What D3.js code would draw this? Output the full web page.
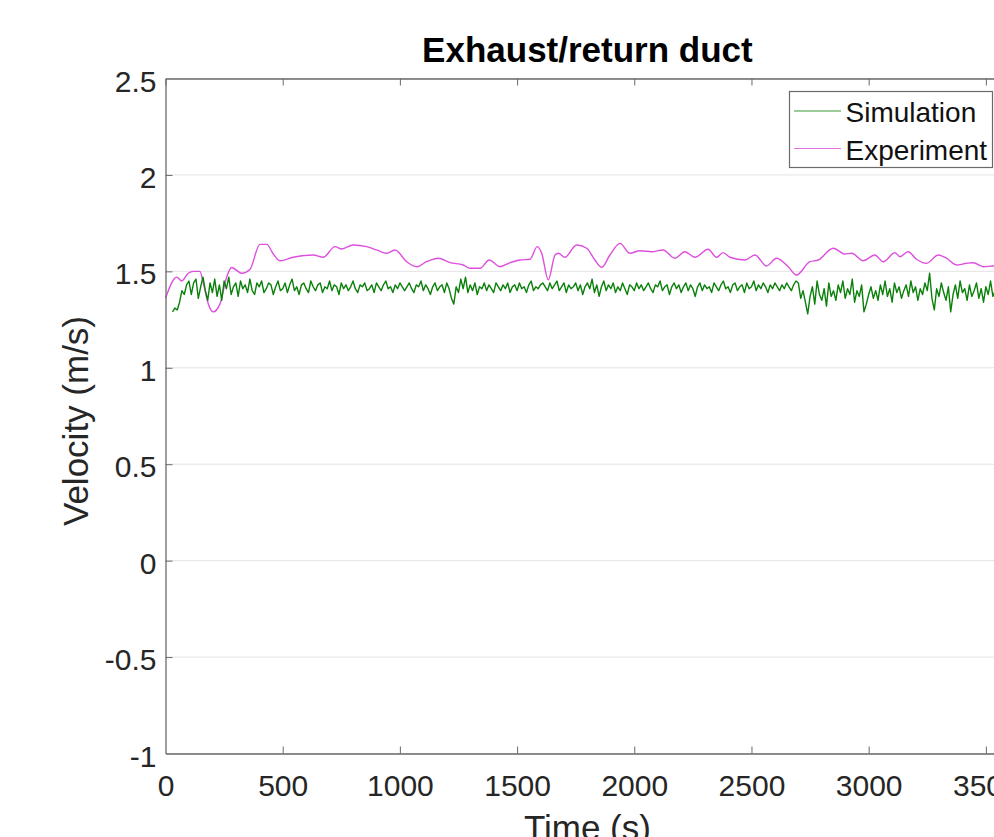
<!DOCTYPE html>
<html>
<head>
<meta charset="utf-8">
<script src="https://cdn.jsdelivr.net/npm/d3@7"></script>
<style>
  body { margin: 0; background: #fff; overflow: hidden; }
  svg { display: block; }
  text { font-family: "Liberation Sans", Arial, Helvetica, sans-serif; fill: #262626; }
</style>
</head>
<body>
<div id="chart"></div>
<script>
// tick labels
var xTicks = [0, 500, 1000, 1500, 2000, 2500, 3000, 3500]
var yTicks = [-1, -0.5, 0, 0.5, 1, 1.5, 2, 2.5]

// Simulation: sampled every 10 s starting at 30 s
var simStart = 30
var simStep = 10
var simValues = [
  1.29, 1.31, 1.30, 1.34, 1.40, 1.38, 1.43, 1.45, 1.38, 1.44, 1.46, 1.36, 1.42, 1.47, 1.40, 1.35, 1.44, 1.39, 1.46, 1.37,
  1.43, 1.35, 1.45, 1.41, 1.47, 1.38, 1.42, 1.44, 1.37, 1.45, 1.41, 1.43, 1.39, 1.46, 1.40, 1.38, 1.44, 1.42, 1.45, 1.39,
  1.41, 1.44, 1.43, 1.38, 1.42, 1.45, 1.40, 1.41, 1.44, 1.39, 1.43, 1.46, 1.40, 1.42, 1.38, 1.43, 1.44, 1.41, 1.39, 1.45,
  1.42, 1.40, 1.43, 1.44, 1.39, 1.42, 1.41, 1.45, 1.40, 1.43, 1.42, 1.38, 1.44, 1.41, 1.43, 1.40, 1.42, 1.45, 1.41, 1.39,
  1.43, 1.42, 1.44, 1.40, 1.41, 1.43, 1.39, 1.44, 1.42, 1.40, 1.43, 1.45, 1.41, 1.42, 1.39, 1.43, 1.41, 1.44, 1.42, 1.40,
  1.42, 1.44, 1.41, 1.39, 1.43, 1.42, 1.45, 1.40, 1.43, 1.41, 1.38, 1.42, 1.44, 1.40, 1.42, 1.43, 1.39, 1.44, 1.41, 1.36,
  1.33, 1.42, 1.39, 1.46, 1.41, 1.47, 1.39, 1.43, 1.40, 1.44, 1.38, 1.42, 1.41, 1.44, 1.40, 1.43, 1.41, 1.39, 1.44, 1.42,
  1.40, 1.43, 1.41, 1.44, 1.39, 1.42, 1.43, 1.40, 1.44, 1.41, 1.42, 1.39, 1.43, 1.45, 1.40, 1.42, 1.41, 1.43, 1.44, 1.42,
  1.40, 1.44, 1.41, 1.43, 1.45, 1.40, 1.42, 1.44, 1.39, 1.43, 1.41, 1.42, 1.44, 1.40, 1.43, 1.38, 1.42, 1.44, 1.41, 1.46,
  1.39, 1.43, 1.37, 1.42, 1.45, 1.40, 1.43, 1.41, 1.44, 1.39, 1.42, 1.40, 1.44, 1.41, 1.38, 1.43, 1.42, 1.40, 1.44, 1.41,
  1.43, 1.40, 1.42, 1.44, 1.41, 1.39, 1.43, 1.42, 1.45, 1.40, 1.42, 1.43, 1.38, 1.42, 1.44, 1.41, 1.43, 1.39, 1.42, 1.44,
  1.40, 1.43, 1.41, 1.37, 1.42, 1.44, 1.40, 1.43, 1.41, 1.42, 1.39, 1.44, 1.42, 1.40, 1.43, 1.45, 1.41, 1.42, 1.39, 1.43,
  1.44, 1.40, 1.42, 1.43, 1.39, 1.44, 1.41, 1.42, 1.45, 1.40, 1.43, 1.41, 1.44, 1.42, 1.39, 1.43, 1.41, 1.44, 1.42, 1.40,
  1.43, 1.41, 1.44, 1.42, 1.40, 1.43, 1.45, 1.44, 1.36, 1.40, 1.34, 1.28, 1.37, 1.42, 1.33, 1.45, 1.38, 1.35, 1.41, 1.32,
  1.44, 1.37, 1.40, 1.35, 1.43, 1.39, 1.45, 1.36, 1.41, 1.38, 1.46, 1.34, 1.40, 1.37, 1.43, 1.29, 1.33, 1.38, 1.42, 1.36,
  1.40, 1.35, 1.43, 1.38, 1.45, 1.37, 1.41, 1.34, 1.44, 1.39, 1.42, 1.36, 1.40, 1.43, 1.37, 1.45, 1.39, 1.42, 1.35, 1.41,
  1.38, 1.44, 1.40, 1.49, 1.36, 1.30, 1.41, 1.37, 1.44, 1.39, 1.35, 1.42, 1.29, 1.38, 1.43, 1.36, 1.45, 1.39, 1.41, 1.35,
  1.43, 1.37, 1.40, 1.44, 1.36, 1.41, 1.34, 1.42, 1.38, 1.45, 1.37, 1.40, 1.36, 1.43, 1.39, 1.44, 1.38, 1.43
]

// Experiment
var expTime = [0, 48, 69, 97, 119, 147, 161, 183, 204, 232, 261, 282, 325, 360, 403, 432, 460, 488, 545, 630,
  673, 723, 752, 801, 858, 901, 944, 979, 1029, 1072, 1114, 1164, 1214, 1270, 1299, 1342, 1381, 1427, 1470, 1512,
  1555, 1586, 1605, 1633, 1662, 1676, 1704, 1754, 1797, 1832, 1861, 1896, 1939, 1981, 2024, 2074, 2123, 2173, 2216, 2259,
  2315, 2351, 2379, 2408, 2472, 2515, 2564, 2607, 2657, 2692, 2749, 2785, 2849, 2898, 2927, 2977, 3026, 3062, 3112, 3133,
  3168, 3204, 3247, 3297, 3332, 3375, 3418, 3446, 3489, 3531, 3600]
var expValues = [1.36, 1.47, 1.45, 1.49, 1.50, 1.50, 1.44, 1.33, 1.29, 1.33, 1.47, 1.52, 1.49, 1.51, 1.64, 1.64, 1.59, 1.555, 1.573, 1.585,
  1.573, 1.628, 1.616, 1.637, 1.628, 1.611, 1.594, 1.611, 1.55, 1.524, 1.55, 1.568, 1.545, 1.533, 1.516, 1.516, 1.559, 1.524, 1.545, 1.559,
  1.563, 1.628, 1.594, 1.456, 1.585, 1.594, 1.573, 1.637, 1.62, 1.559, 1.521, 1.585, 1.645, 1.594, 1.607, 1.602, 1.611, 1.568, 1.602, 1.573,
  1.615, 1.573, 1.597, 1.573, 1.559, 1.585, 1.528, 1.568, 1.524, 1.481, 1.55, 1.559, 1.62, 1.59, 1.594, 1.555, 1.585, 1.55, 1.597, 1.576,
  1.602, 1.563, 1.542, 1.585, 1.568, 1.533, 1.542, 1.545, 1.524, 1.528, 1.525]

var seriesNames = ["Simulation", "Experiment"]
var seriesColors = ["#0a800a", "#dd4fdd"]

drawChart()

function drawChart() {
    var width = 994, height = 837
    var left = 165.5, right = 1009.3, top = 78.5, bottom = 753.5

    var svg = d3.select("#chart")
        .append("svg")
        .attr("width", width)
        .attr("height", height)

    var x = d3.scaleLinear().domain([0, 3600]).range([left, right])
    var y = d3.scaleLinear().domain([-1, 2.5]).range([bottom, top])

    // horizontal grid
    svg.append("g")
        .selectAll("line")
        .data(yTicks)
        .enter()
        .append("line")
        .attr("x1", left)
        .attr("x2", right)
        .attr("y1", function (d) { return y(d) })
        .attr("y2", function (d) { return y(d) })
        .attr("stroke", "#e3e3e3")
        .attr("stroke-width", 1)

    // data lines
    var simData = simValues.map(function (v, i) { return [simStart + i * simStep, v] })
    var expData = expTime.map(function (t, i) { return [t, expValues[i]] })

    var line = d3.line()
        .x(function (d) { return x(d[0]) })
        .y(function (d) { return y(d[1]) })

    svg.append("path")
        .datum(expData)
        .attr("fill", "none")
        .attr("stroke", seriesColors[1])
        .attr("stroke-width", 1.4)
        .attr("d", line.curve(d3.curveMonotoneX))

    svg.append("path")
        .datum(simData)
        .attr("fill", "none")
        .attr("stroke", seriesColors[0])
        .attr("stroke-width", 1.4)
        .attr("stroke-linejoin", "round")
        .attr("d", line.curve(d3.curveLinear))

    // axes (MATLAB style: inward ticks, box on)
    var axisColor = "#6a6a6a"
    var plain = function (d) { return String(d) }

    var xAxis = svg.append("g")
        .attr("transform", "translate(0," + bottom + ")")
        .call(d3.axisBottom(x).tickValues(xTicks).tickSizeInner(-7).tickSizeOuter(0).tickPadding(21.5).tickFormat(plain))
    var yAxis = svg.append("g")
        .attr("transform", "translate(" + left + ",0)")
        .call(d3.axisLeft(y).tickValues(yTicks).tickSizeInner(-7).tickSizeOuter(0).tickPadding(9).tickFormat(plain))
    var xTop = svg.append("g")
        .attr("transform", "translate(0," + top + ")")
        .call(d3.axisTop(x).tickValues(xTicks).tickSizeInner(-7).tickSizeOuter(0).tickFormat(""))
    var yRight = svg.append("g")
        .attr("transform", "translate(" + right + ",0)")
        .call(d3.axisRight(y).tickValues(yTicks).tickSizeInner(-7).tickSizeOuter(0).tickFormat(""))

    ;[xAxis, yAxis, xTop, yRight].forEach(function (g) {
        g.select(".domain").attr("stroke", axisColor).attr("stroke-width", 1.3)
        g.selectAll(".tick line").attr("stroke", axisColor).attr("stroke-width", 1)
        g.selectAll(".tick text")
            .attr("fill", "#262626")
            .style("font-size", "30px")
            .style("font-family", '"Liberation Sans", Arial, sans-serif')
    })
    yAxis.selectAll(".tick text").attr("dy", "0.42em")
    yAxis.selectAll(".tick line").filter(function (d) { return d === 2.5 || d === -1 }).remove()
    xAxis.selectAll(".tick line").filter(function (d) { return d === 0 }).remove()

    // title and axis labels
    svg.append("text")
        .attr("x", (left + right) / 2)
        .attr("y", 61.5)
        .attr("text-anchor", "middle")
        .style("font-size", "35px")
        .style("font-weight", "bold")
        .style("fill", "#000")
        .text("Exhaust/return duct")

    svg.append("text")
        .attr("transform", "translate(88," + ((top + bottom) / 2 + 5) + ") rotate(-90)")
        .attr("text-anchor", "middle")
        .style("font-size", "35px")
        .text("Velocity (m/s)")

    svg.append("text")
        .attr("x", (left + right) / 2)
        .attr("y", 840)
        .attr("text-anchor", "middle")
        .style("font-size", "35px")
        .text("Time (s)")

    // legend
    var legend = svg.append("g")
    legend.append("rect")
        .attr("x", 789.5)
        .attr("y", 91.5)
        .attr("width", 203)
        .attr("height", 76)
        .attr("fill", "#fff")
        .attr("stroke", "#6a6a6a")
        .attr("stroke-width", 1.2)

    var rowY = [111, 148.5]
    seriesNames.forEach(function (name, i) {
        legend.append("line")
            .attr("x1", 794)
            .attr("x2", 841)
            .attr("y1", rowY[i])
            .attr("y2", rowY[i])
            .attr("stroke", seriesColors[i])
            .attr("stroke-width", 1.2)
            .attr("opacity", 0.8)
        legend.append("text")
            .attr("x", 845.5)
            .attr("y", rowY[i] + 11)
            .style("font-size", "28px")
            .style("fill", "#111")
            .text(name)
    })
}
</script>
</body>
</html>
